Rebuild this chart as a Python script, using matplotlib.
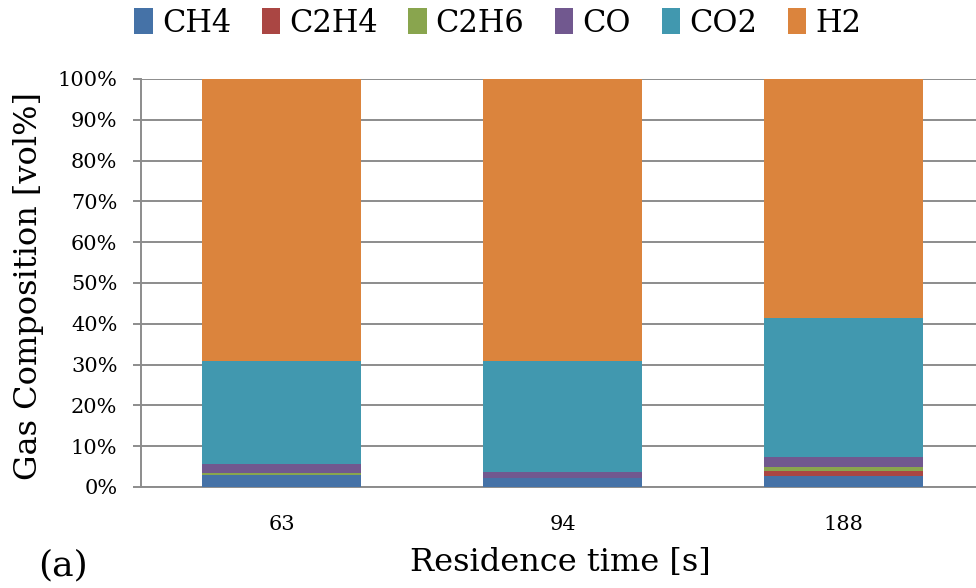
import numpy as np
import matplotlib
matplotlib.use("Agg")
import matplotlib.pyplot as plt
from matplotlib.ticker import PercentFormatter

# residence time categories and gas composition (vol%)
times = ["63", "94", "188"]
ch4 = [2.9, 2.2, 2.8]
c2h4 = [0.0, 0.0, 1.1]
c2h6 = [0.5, 0.0, 0.9]
co = [2.3, 1.4, 2.5]
co2 = [25.2, 27.3, 34.1]
h2 = [69.1, 69.1, 58.6]

names = ["CH4", "C2H4", "C2H6", "CO", "CO2", "H2"]
colors = ["#4572A7", "#AA4643", "#89A54E", "#71588F", "#4198AF", "#DB843D"]

plt.rcParams["font.family"] = ["DejaVu Serif"]

fig = plt.figure(figsize=(9.76, 5.88), dpi=100)
ax = fig.add_axes([141 / 976, 1 - 487 / 588, 843 / 976, 408 / 588])

x = np.arange(len(times))
bottom = np.zeros(len(times))
for name, vals, c in zip(names, [ch4, c2h4, c2h6, co, co2, h2], colors):
    ax.bar(x, vals, width=0.566, bottom=bottom, color=c, label=name,
           zorder=3, edgecolor="none")
    bottom += np.array(vals)

ax.set_xlim(-0.5, 2.5)
ax.set_ylim(0, 100)
ax.set_yticks(np.arange(0, 101, 10))
ax.yaxis.set_major_formatter(PercentFormatter(decimals=0))
ax.set_xticks(x)
ax.set_xticklabels(times)
ax.grid(axis="y", color="#8c8c8c", linewidth=1.4, zorder=0)
for s in ["top", "right"]:
    ax.spines[s].set_visible(False)
for s in ["left", "bottom"]:
    ax.spines[s].set_color("#8c8c8c")
    ax.spines[s].set_linewidth(1.4)
ax.tick_params(axis="y", length=6, width=1.4, color="#8c8c8c", labelsize=15, pad=11)
ax.tick_params(axis="x", length=0, labelsize=15, pad=20)

ax.set_ylabel("Gas Composition [vol%]", fontsize=23, va="center")
ax.yaxis.set_label_coords(-0.134, 0.493)
ax.set_xlabel("Residence time [s]", fontsize=23, va="center")
ax.xaxis.set_label_coords(0.498, -0.186)

fig.legend(loc="center", ncol=6, bbox_to_anchor=(0.51, 1 - 23 / 588), frameon=False,
           fontsize=22, handlelength=0.6, handleheight=0.9, handletextpad=0.3,
           columnspacing=1.0)
fig.text(38 / 976, 1 - 565 / 588, "(a)", fontsize=26, va="center", ha="left")

fig.savefig("out.png", dpi=100, facecolor="white")
